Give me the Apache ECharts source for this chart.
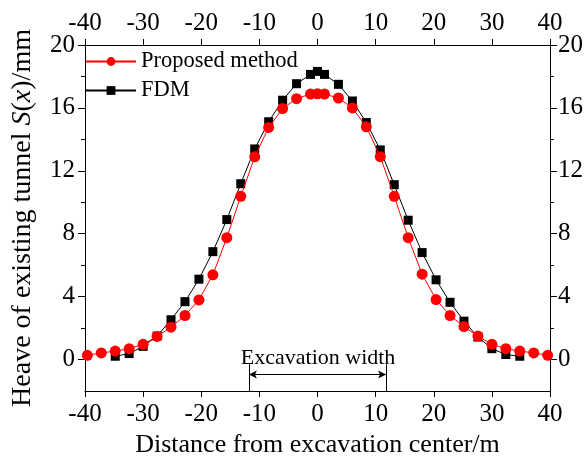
<!DOCTYPE html>
<html>
<head>
<meta charset="utf-8">
<script src="https://cdn.jsdelivr.net/npm/echarts@6/dist/echarts.min.js"></script>
<style>
  html, body { margin: 0; padding: 0; background: #fff; }
  #chart { width: 587px; height: 471px; }
</style>
</head>
<body>
<div id="chart"></div>
<script>
// distance from excavation center (m)
const distance = [-39.6, -37.2, -34.8, -32.4, -30, -27.6, -25.2, -22.8, -20.4, -18, -15.6, -13.2,
  -10.8, -8.4, -6, -3.6, -1.2, 0, 1.2, 3.6, 6, 8.4, 10.8, 13.2, 15.6, 18, 20.4, 22.8, 25.2,
  27.6, 30, 32.4, 34.8, 37.2, 39.6];

// heave (mm), proposed method
const proposed = [0.27, 0.42, 0.54, 0.69, 0.97, 1.47, 2.06, 2.8, 3.79, 5.39, 7.75, 10.38,
  12.89, 14.76, 15.96, 16.59, 16.88, 16.9, 16.88, 16.63, 16.0, 14.8, 12.9, 10.38, 7.75, 5.43,
  3.81, 2.8, 2.1, 1.49, 0.97, 0.69, 0.54, 0.42, 0.27];

// FDM only covers -34.8 .. 34.8
const fdmDistance = distance.slice(2, 33);
const fdm = [0.21, 0.38, 0.84, 1.49, 2.53, 3.68, 5.11, 6.86, 8.9, 11.18, 13.39, 15.12, 16.49,
  17.54, 18.13, 18.32, 18.13, 17.5, 16.44, 15.07, 13.33, 11.12, 8.86, 6.8, 5.07, 3.64, 2.44,
  1.43, 0.69, 0.32, 0.21];

const majorY = [0, 4, 8, 12, 16, 20];
const minorY = [2, 6, 10, 14, 18];
const excavationHalfWidth = 11.8;

const font = 'Liberation Serif';
const black = '#000';

const chart = echarts.init(document.getElementById('chart'));

const xBase = {
  type: 'value', min: -40, max: 40, interval: 10,
  axisLine: { onZero: false, lineStyle: { color: black, width: 1 } },
  axisTick: { length: 6, lineStyle: { color: black } },
  splitLine: { show: false }
};

const yMajor = (pos) => ({
  type: 'value', min: -2, max: 20, position: pos,
  axisLine: { show: true, onZero: false, lineStyle: { color: black, width: 1 } },
  axisTick: { customValues: majorY, length: 7, lineStyle: { color: black } },
  axisLabel: { customValues: majorY, fontFamily: font, fontSize: 25, color: black, margin: pos === 'left' ? 10 : 8 },
  splitLine: { show: false }
});

const yMinor = (pos) => ({
  type: 'value', min: -2, max: 20, position: pos,
  axisLine: { show: false, onZero: false },
  axisTick: { show: true, customValues: minorY, length: 4, lineStyle: { color: black } },
  axisLabel: { show: false },
  splitLine: { show: false }
});

chart.setOption({
  animation: false,
  backgroundColor: '#fff',
  grid: { left: 85, right: 37, top: 45, bottom: 80 },
  legend: {
    data: ['Proposed method', 'FDM'],
    orient: 'vertical',
    left: 85, top: 50,
    padding: 0,
    itemWidth: 50, itemHeight: 11, itemGap: 6,
    textStyle: { fontFamily: font, fontSize: 22.5, color: black }
  },
  xAxis: [
    Object.assign({}, xBase, {
      position: 'bottom',
      axisLabel: { fontFamily: font, fontSize: 25, color: black, margin: 11 },
      name: 'Distance from excavation center/m',
      nameLocation: 'middle', nameGap: 38,
      nameTextStyle: { fontFamily: font, fontSize: 26, color: black }
    }),
    Object.assign({}, xBase, {
      position: 'top',
      axisLabel: { fontFamily: font, fontSize: 25, color: black, margin: 9 }
    })
  ],
  yAxis: [
    Object.assign(yMajor('left'), {
      name: 'Heave of existing tunnel {i|S}({i|x})/mm',
      nameLocation: 'middle', nameGap: 48,
      nameTextStyle: {
        fontFamily: font, fontSize: 28, color: black,
        rich: { i: { fontFamily: font, fontSize: 28, fontStyle: 'italic', color: black } }
      }
    }),
    yMajor('right'),
    yMinor('left'),
    yMinor('right')
  ],
  series: [
    {
      name: 'Proposed method', type: 'line',
      xAxisIndex: 0, yAxisIndex: 0,
      data: distance.map((d, i) => [d, proposed[i]]),
      symbol: 'circle', symbolSize: 11,
      lineStyle: { color: '#ff0000', width: 1 },
      itemStyle: { color: '#ff0000' },
      z: 3
    },
    {
      name: 'FDM', type: 'line',
      xAxisIndex: 0, yAxisIndex: 0,
      data: fdmDistance.map((d, i) => [d, fdm[i]]),
      symbol: 'rect', symbolSize: 9,
      lineStyle: { color: black, width: 1 },
      itemStyle: { color: black },
      z: 2
    },
    {
      name: 'annotation', type: 'line',
      xAxisIndex: 0, yAxisIndex: 0,
      data: [],
      silent: true,
      markLine: {
        silent: true,
        symbol: ['none', 'none'],
        lineStyle: { color: black, width: 1, type: 'solid' },
        label: { show: false },
        data: [
          [{ coord: [-excavationHalfWidth, -2] }, { coord: [-excavationHalfWidth, -0.3] }],
          [{ coord: [excavationHalfWidth, -2] }, { coord: [excavationHalfWidth, -0.3] }],
          [
            { coord: [-excavationHalfWidth, -0.95], symbol: 'arrow', symbolSize: [6, 8] },
            { coord: [excavationHalfWidth, -0.95], symbol: 'arrow', symbolSize: [6, 8] }
          ]
        ]
      },
      markPoint: {
        silent: true,
        symbol: 'rect', symbolSize: 1,
        itemStyle: { color: 'rgba(0,0,0,0)' },
        label: {
          show: true, position: 'inside',
          formatter: 'Excavation width',
          fontFamily: font, fontSize: 22, color: black
        },
        data: [{ coord: [0.1, 0.1] }]
      }
    }
  ]
});
</script>
</body>
</html>
